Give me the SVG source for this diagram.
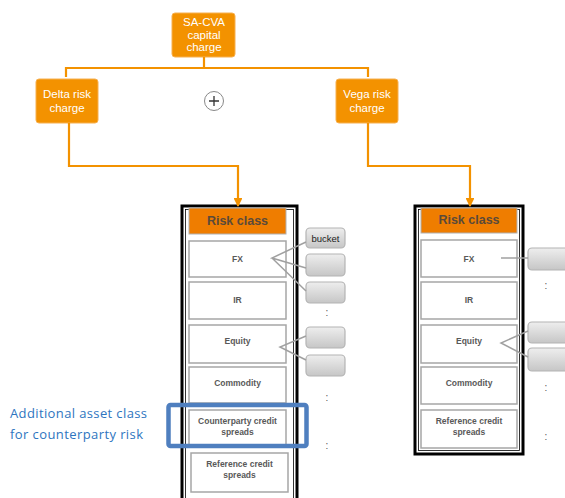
<svg xmlns="http://www.w3.org/2000/svg" width="565" height="498" viewBox="0 0 565 498">
<style>
.top{fill:#f39200;stroke:#f6b050;stroke-width:1}
.wt{fill:#fff;font-family:"Liberation Sans",Arial,sans-serif;font-size:11.5px;text-anchor:middle}
.conn{fill:none;stroke:#f39200;stroke-width:2.2}
.outer{fill:#fff;stroke:#000;stroke-width:3}
.inner{fill:none;stroke:#000;stroke-width:0.8}
.hdr{fill:#ef7d00;stroke:#b0b0b0;stroke-width:1}
.ht{fill:#5a4a3a;font-family:"Liberation Sans",Arial,sans-serif;font-size:12.5px;font-weight:bold;text-anchor:middle}
.item{fill:#fff;stroke:#a6a6a6;stroke-width:1.5}
.it{fill:#595959;font-family:"Liberation Sans",Arial,sans-serif;font-size:8.5px;font-weight:bold;text-anchor:middle}
.bk{fill:url(#g);stroke:#b4b4b4;stroke-width:1.2}
.gl{fill:none;stroke:#a0a0a0;stroke-width:1.5}
.dots{fill:#555;font-family:"Liberation Sans",Arial,sans-serif;font-size:10px;text-anchor:middle}
</style>
<defs>
<linearGradient id="g" x1="0" y1="0" x2="0" y2="1">
<stop offset="0" stop-color="#eeeeee"/>
<stop offset="1" stop-color="#c6c6c6"/>
</linearGradient>
<marker id="ar" viewBox="0 0 10 10" refX="9" refY="5" markerWidth="4" markerHeight="4" orient="auto">
<path d="M0,0 L10,5 L0,10 z" fill="#f39200"/>
</marker>
</defs>
<rect width="565" height="498" fill="#fff"/>

<g id="sa-cva">
<rect class="top" x="172" y="13" width="63" height="44" rx="3"/>
<text class="wt" x="204" y="26">SA-CVA</text>
<text class="wt" x="204" y="38.5">capital</text>
<text class="wt" x="204" y="51">charge</text>
</g>
<g id="delta">
<rect class="top" x="36" y="79" width="62" height="44" rx="3"/>
<text class="wt" x="67" y="98">Delta risk</text>
<text class="wt" x="67" y="112">charge</text>
</g>
<g id="vega">
<rect class="top" x="336" y="79" width="62" height="44" rx="3"/>
<text class="wt" x="367" y="98">Vega risk</text>
<text class="wt" x="367" y="112">charge</text>
</g>
<g id="plus">
<circle cx="214" cy="101" r="9.5" fill="#fff" stroke="#888" stroke-width="1"/>
<path d="M209,101 H219 M214,96 V106" stroke="#333" stroke-width="1.3"/>
</g>

<g id="left-column">
<rect class="outer" x="182" y="206" width="115" height="300"/>
<rect class="inner" x="185.5" y="209.5" width="108" height="300"/>
<rect class="hdr" x="189" y="208" width="97" height="26"/>
<text class="ht" x="237.5" y="225">Risk class</text>
<rect class="item" x="189" y="241" width="97" height="36"/>
<text class="it" x="237.5" y="262">FX</text>
<rect class="item" x="189" y="282" width="97" height="37"/>
<text class="it" x="237.5" y="303">IR</text>
<rect class="item" x="189" y="325" width="97" height="38"/>
<text class="it" x="237.5" y="344">Equity</text>
<rect class="item" x="189" y="367" width="97" height="36"/>
<text class="it" x="237.5" y="386">Commodity</text>
<rect class="item" x="189" y="410" width="97" height="35"/>
<text class="it" x="237.5" y="424">Counterparty credit</text>
<text class="it" x="237.5" y="435">spreads</text>
<rect class="item" x="191" y="453" width="97" height="39"/>
<text class="it" x="239.5" y="467">Reference credit</text>
<text class="it" x="239.5" y="478">spreads</text>
</g>

<g id="left-buckets">
<rect class="bk" x="306" y="228" width="39" height="20" rx="4"/>
<text x="325.5" y="241.5" fill="#222" font-family="Liberation Sans,Arial,sans-serif" font-size="9.5" text-anchor="middle">bucket</text>
<rect class="bk" x="306" y="254" width="39" height="22" rx="4"/>
<rect class="bk" x="306" y="282" width="39" height="21" rx="4"/>
<text class="dots" x="327" y="316">:</text>
<rect class="bk" x="306" y="327" width="39" height="21" rx="4"/>
<rect class="bk" x="306" y="355" width="39" height="21" rx="4"/>
<text class="dots" x="327" y="401">:</text>
<text class="dots" x="327" y="449">:</text>
</g>

<g id="right-column">
<rect class="outer" x="415" y="206" width="108" height="248"/>
<rect class="inner" x="418.5" y="209.5" width="101" height="241"/>
<rect class="hdr" x="421" y="208" width="96" height="25"/>
<text class="ht" x="469" y="224">Risk class</text>
<rect class="item" x="421" y="240" width="96" height="37"/>
<text class="it" x="469" y="262">FX</text>
<rect class="item" x="421" y="282" width="96" height="37"/>
<text class="it" x="469" y="303">IR</text>
<rect class="item" x="421" y="325" width="96" height="38"/>
<text class="it" x="469" y="344">Equity</text>
<rect class="item" x="421" y="367" width="96" height="37"/>
<text class="it" x="469" y="386">Commodity</text>
<rect class="item" x="421" y="410" width="96" height="38"/>
<text class="it" x="469" y="424">Reference credit</text>
<text class="it" x="469" y="435">spreads</text>
</g>

<g id="right-buckets">
<rect class="bk" x="528" y="248" width="45" height="22" rx="4"/>
<text class="dots" x="546" y="289">:</text>
<rect class="bk" x="528" y="322" width="45" height="21" rx="4"/>
<rect class="bk" x="528" y="348" width="45" height="23" rx="4"/>
<text class="dots" x="546" y="391">:</text>
<text class="dots" x="546" y="440">:</text>
</g>

<g id="connectors">
<path class="conn" d="M204,57 V68 M66,77 V68 H368 V77"/>
<path class="conn" d="M69,123 V166 H238 V206" marker-end="url(#ar)"/>
<path class="conn" d="M368,123 V166 H470 V206" marker-end="url(#ar)"/>
<path class="gl" d="M306,242 L272,258 L306,268 M272,258 L306,291"/>
<path class="gl" d="M306,336 L280,347 L306,360"/>
<path class="gl" d="M501,258 H528"/>
<path class="gl" d="M528,331 L501,343 L528,357"/>
</g>

<g id="highlight">
<rect x="168.5" y="405" width="138" height="41" rx="2" fill="none" stroke="#4f7fbf" stroke-width="4.5"/>
<text x="10" y="418" fill="#2e75c0" font-family="Open Sans,Liberation Sans,sans-serif" font-size="13" textLength="137">Additional asset class</text>
<text x="10" y="439" fill="#2e75c0" font-family="Open Sans,Liberation Sans,sans-serif" font-size="13" textLength="133">for counterparty risk</text>
</g>
</svg>
